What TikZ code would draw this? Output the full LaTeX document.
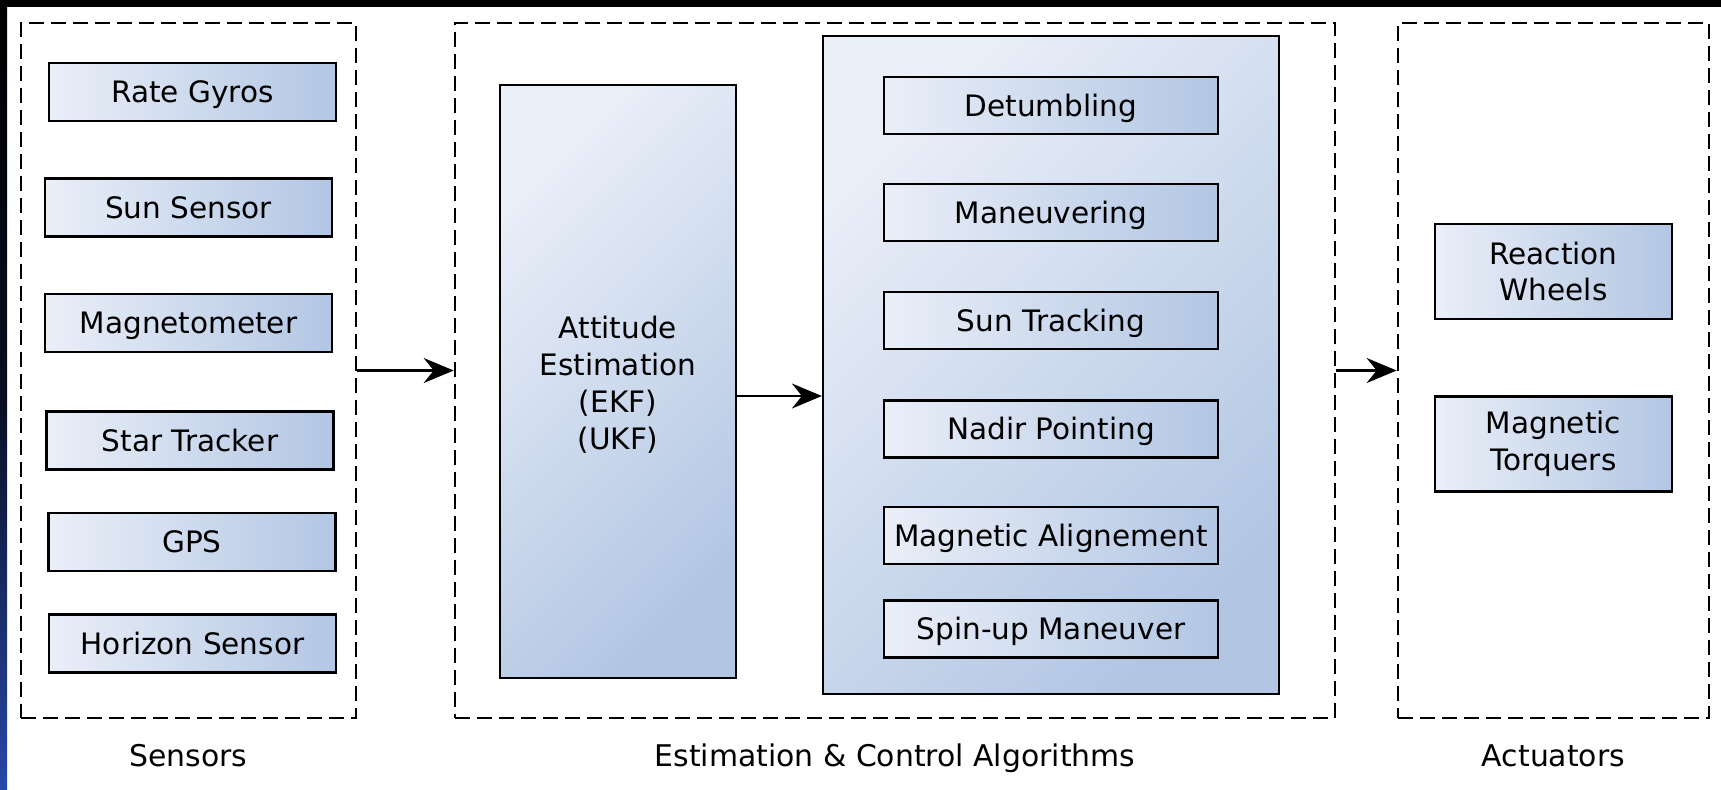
\documentclass[tikz,border=0pt]{standalone}
\usepackage{fontspec}
\setmainfont{DejaVu Sans}
\usetikzlibrary{arrows.meta}
\definecolor{boxlight}{RGB}{234,239,248}
\definecolor{boxdark}{RGB}{178,198,227}
\definecolor{edgeblue}{RGB}{40,72,168}
\begin{document}
\begin{tikzpicture}[x=0.02cm, y=-0.02cm,
    every node/.style={font=\fontsize{16.8}{21}\selectfont, align=center},
    block/.style={draw=black, line width=1.3pt, left color=boxlight, right color=boxdark, inner sep=0pt, text height=12.2pt, text depth=0pt},
    twoline/.style={draw=black, line width=1.3pt, left color=boxlight, right color=boxdark, inner sep=0pt},
    bigblock/.style={draw=black, line width=1.3pt, top color=boxlight, bottom color=boxdark, shading angle=45, inner sep=0pt},
    group/.style={draw=black, line width=1.6pt, dash pattern=on 0.3cm off 0.14cm, inner sep=0pt},
    grouplbl/.style={font=\fontsize{17}{21}\selectfont, anchor=base},
    flow/.style={-{Stealth[length=0.6cm, width=0.5cm, inset=0.2cm]}, line width=1.2pt}]
  \useasboundingbox (0,0) rectangle (1721,789);
  \fill[white] (0,0) rectangle (1721,789);
  \fill[black] (0,0) rectangle (1721,7);
  \shade[top color=black, bottom color=edgeblue, middle color=black!80!edgeblue] (0,7) rectangle (7,789);

  \node[group, minimum width=6.7cm, minimum height=13.9cm] (sens) at (188.5,370.5) {};
  \node[group, minimum width=17.6cm, minimum height=13.9cm] (algo) at (895,370.5) {};
  \node[group, minimum width=6.22cm, minimum height=13.9cm] (act) at (1553.5,370.5) {};

  \foreach \name/\txt/\x/\y in {gyro/Rate Gyros/192.5/92, sun/Sun Sensor/188.5/207.5,
      mag/Magnetometer/188.5/323, star/Star Tracker/190/440.5, gps/GPS/192/542,
      hor/Horizon Sensor/192.5/643.5}
    \node[block, minimum width=5.74cm, minimum height=1.16cm] (\name) at (\x,\y) {\txt};

  \node[bigblock, minimum width=4.72cm, minimum height=11.86cm] (est) at (618,381.5) {};
  \node (esttxt) at (618,385) {Attitude\\Estimation\\(EKF)\\(UKF)};
  \node[bigblock, minimum width=9.12cm, minimum height=13.16cm] (ctrl) at (1051,365) {};

  \foreach \name/\txt/\y in {detumb/Detumbling/105.5, maneuv/Maneuvering/212.5,
      suntrack/Sun Tracking/320.5, nadir/Nadir Pointing/429,
      magalign/Magnetic Alignement/535.5, spinup/Spin-up Maneuver/629}
    \node[block, minimum width=6.68cm, minimum height=1.14cm] (\name) at (1051,\y) {\txt};

  \node[twoline, minimum width=4.74cm, minimum height=1.9cm] (wheels) at (1553.5,271.5) {Reaction\\Wheels};
  \node[twoline, minimum width=4.74cm, minimum height=1.9cm] (torq) at (1553.5,444) {Magnetic\\Torquers};

  \node[grouplbl] (senslbl) at (188.5,766) {Sensors};
  \node[grouplbl] (algolbl) at (895,766) {Estimation \& Control Algorithms};
  \node[grouplbl] (actlbl) at (1553.5,766) {Actuators};

  \draw[flow] (sens.east) -- (algo.west);
  \draw[flow] (est.east |- 0,396) -- (ctrl.west |- 0,396);
  \draw[flow] (algo.east) -- (act.west);
\end{tikzpicture}
\end{document}
